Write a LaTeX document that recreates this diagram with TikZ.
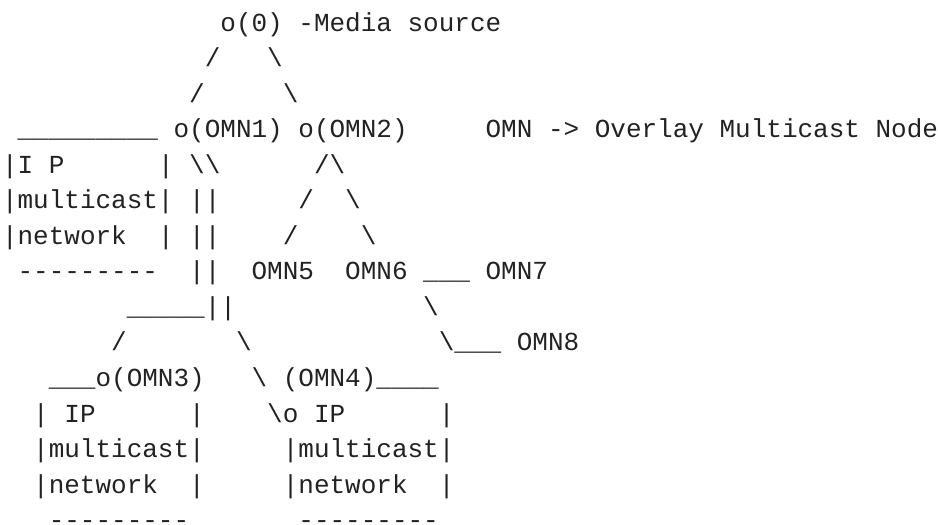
\documentclass[tikz,border=0pt]{standalone}
\usepackage{fontspec}
\setmonofont{Liberation Mono}
\definecolor{ink}{HTML}{222222}
\newcommand\ch[4]{\node[txt] (#1) at ({#2*15.6+2},{-31-(#3-1)*35.55}) {#4};}
\begin{document}
\begin{tikzpicture}[x=1pt,y=1pt,
  txt/.style={anchor=base west,inner sep=0pt,outer sep=0pt,text=ink,
    font=\ttfamily\fontsize{26}{30}\selectfont}]
\fill[white] (0,0) rectangle (938,-525);
\useasboundingbox (0,0) rectangle (938,-525);
% line 1
\ch{src}{14}{1}{o(0) -Media source}
% line 2
\ch{a1}{13}{2}{/}
\ch{a2}{17}{2}{\textbackslash}
% line 3
\ch{a3}{12}{3}{/}
\ch{a4}{18}{3}{\textbackslash}
% line 4
\ch{l4a}{1}{4}{\_\_\_\_\_\_\_\_\_}
\ch{omn1}{11}{4}{o(OMN1)}
\ch{omn2}{19}{4}{o(OMN2)}
\ch{legend}{31}{4}{OMN -> Overlay Multicast Node}
% line 5
\ch{b1}{0}{5}{|I P}
\ch{b2}{10}{5}{|}
\ch{b3}{12}{5}{\textbackslash\textbackslash}
\ch{b4}{20}{5}{/\textbackslash}
% line 6
\ch{c1}{0}{6}{|multicast|}
\ch{c2}{12}{6}{||}
\ch{c3}{19}{6}{/}
\ch{c4}{22}{6}{\textbackslash}
% line 7
\ch{d1}{0}{7}{|network}
\ch{d2}{10}{7}{|}
\ch{d3}{12}{7}{||}
\ch{d4}{18}{7}{/}
\ch{d5}{23}{7}{\textbackslash}
% line 8
\ch{e1}{1}{8}{---------}
\ch{e2}{12}{8}{||}
\ch{omn5}{16}{8}{OMN5}
\ch{omn6}{22}{8}{OMN6}
\ch{e3}{27}{8}{\_\_\_}
\ch{omn7}{31}{8}{OMN7}
% line 9
\ch{f1}{8}{9}{\_\_\_\_\_||}
\ch{f2}{27}{9}{\textbackslash}
% line 10
\ch{g1}{7}{10}{/}
\ch{g2}{15}{10}{\textbackslash}
\ch{g3}{28}{10}{\textbackslash\_\_\_}
\ch{omn8}{33}{10}{OMN8}
% line 11
\ch{h1}{3}{11}{\_\_\_o(OMN3)}
\ch{h2}{16}{11}{\textbackslash}
\ch{omn4}{18}{11}{(OMN4)\_\_\_\_}
% line 12
\ch{i1}{2}{12}{|}
\ch{i2}{4}{12}{IP}
\ch{i3}{12}{12}{|}
\ch{i4}{17}{12}{\textbackslash{}o IP}
\ch{i5}{28}{12}{|}
% line 13
\ch{j1}{2}{13}{|multicast|}
\ch{j2}{18}{13}{|multicast|}
% line 14
\ch{k1}{2}{14}{|network}
\ch{k2}{12}{14}{|}
\ch{k3}{18}{14}{|network}
\ch{k4}{28}{14}{|}
% line 15
\ch{m1}{3}{15}{---------}
\ch{m2}{19}{15}{---------}
\end{tikzpicture}
\end{document}
